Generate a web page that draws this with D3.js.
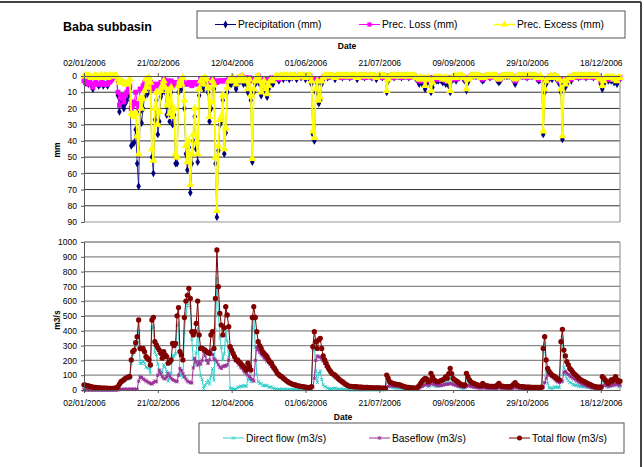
<!DOCTYPE html>
<html><head><meta charset="utf-8">
<script src="https://cdn.jsdelivr.net/npm/d3@7"></script>
<style>
body{margin:0;background:#fff}
svg{display:block}
text{font-family:"Liberation Sans",Arial,sans-serif;fill:#000}
</style>
</head><body>
<svg id="c" width="644" height="467"></svg>
<script>
// ---------- DATA ----------
const startDate = "02/01/2006";
const endDate = "31/12/2006";
const tickLabels = ["02/01/2006","21/02/2006","12/04/2006","01/06/2006","21/07/2006","09/09/2006","29/10/2006","18/12/2006"];
const precTicks = [0,10,20,30,40,50,60,70,80,90];
const flowTicks = [0,100,200,300,400,500,600,700,800,900,1000];
const precLegend = ["Precipitation (mm)","Prec. Loss (mm)","Prec. Excess (mm)"];
const flowLegend = ["Direct flow (m3/s)","Baseflow (m3/s)","Total flow (m3/s)"];

const precipitation = [
3,4,2,5,4,6,8,5,4,5, 6,5,4,6,5,5,6,4,3,2, 1,0,1,12,22,15,18,20,17,15,
12,8,43,42,41,33,54,68,22,29, 20,13,5,11,3,8,50,60,27,15, 36,28,13,10,5,10,24,12,28,10,
30,24,54,54,10,5,8,3,20,48, 58,44,72,54,40,25,45,53,12,5, 5,8,3,5,10,28,20,5,8,54,
87,46,30,28,15,48,35,10,5,5, 5,3,5,8,5,2,3,0,5,3, 5,10,3,15,53,10,5,3,0,5,
12,8,5,10,13,8,5,3,5,2, 1,0,3,1,0,2,0,1,0,2, 0,1,0,0,2,0,0,1,0,0,
2,0,1,0,5,36,40,10,5,17, 15,5,2,0,0,1,0,0,0,0, 2,0,0,0,0,1,0,0,0,0,
1,0,0,0,0,2,0,0,0,0, 1,0,0,0,0,1,0,0,2,0, 0,0,1,0,0,10,3,0,0,0,
1,0,0,0,0,1,0,0,0,0, 1,0,0,0,0,2,3,5,3,5, 3,8,5,2,4,10,7,3,2,3,
3,2,3,4,2,5,3,6,10,3, 2,1,3,0,1,0,0,2,3,9, 4,2,0,0,0,0,0,0,0,2,
3,2,0,0,0,1,0,0,0,0, 3,4,3,0,0,0,0,0,0,0, 0,3,5,3,0,0,0,0,0,0,
1,0,0,0,0,0,0,2,3,2, 3,36,10,5,3,2,0,2,0,0, 2,3,5,10,39,5,7,5,3,2,
3,0,0,0,0,1,0,0,0,0, 1,0,0,0,0,1,0,0,0,2, 5,8,5,3,2,3,2,3,2,4,
2,5,3,2];

const precLoss = [
3,4,2,5,4,5,7,5,4,5, 5,5,4,5,5,5,5,4,3,2, 1,0,1,10,18,12,14,16,12,10,
8,6,20,18,16,10,17,20,8,9, 6,4,3,4,2,4,5,8,7,5, 6,6,4,4,2,3,6,3,5,3,
5,4,6,4,4,2,3,2,5,5, 5,4,5,6,4,5,4,5,4,2, 3,3,2,3,3,3,4,2,3,4,
4,3,3,3,3,3,3,3,2,3, 2,2,2,3,2,1,1,0,2,1, 2,2,1,3,2,2,2,2,0,2,
2,2,2,2,2,2,2,1,2,1, 1,0,2,1,0,1,0,1,0,1, 0,1,0,0,1,0,0,1,0,0,
1,0,1,0,2,2,2,2,2,2, 2,2,1,0,0,1,0,0,0,0, 1,0,0,0,0,1,0,0,0,0,
1,0,0,0,0,1,0,0,0,0, 1,0,0,0,0,1,0,0,1,0, 0,0,1,0,0,1,1,0,0,0,
1,0,0,0,0,1,0,0,0,0, 1,0,0,0,0,1,2,3,2,3, 2,2,3,1,2,1,3,2,1,2,
2,1,2,2,1,3,2,3,1,2, 1,1,2,0,1,0,0,1,2,1, 2,1,0,0,0,0,0,0,0,1,
2,1,0,0,0,1,0,0,0,0, 2,2,2,0,0,0,0,0,0,0, 0,2,3,2,0,0,0,0,0,0,
1,0,0,0,0,0,0,1,2,2, 2,2,2,2,2,1,0,1,0,0, 1,2,3,2,2,2,2,2,2,1,
2,0,0,0,0,1,0,0,0,0, 1,0,0,0,0,1,0,0,0,1, 3,2,2,2,1,2,1,2,1,2,
1,2,2,1];

const precExcess = [
0,0,0,0,0,1,1,0,0,0, 1,0,0,1,0,0,1,0,0,0, 0,0,0,2,4,3,4,4,5,5,
4,2,23,24,25,23,37,48,14,20, 14,9,2,7,1,4,45,52,20,10, 30,22,9,6,3,7,18,9,23,7,
25,20,48,50,6,3,5,1,15,43, 53,40,67,48,36,20,41,48,8,3, 2,5,1,2,7,25,16,3,5,50,
83,43,27,25,12,45,32,7,3,2, 3,1,3,5,3,1,2,0,3,2, 3,8,2,12,51,8,3,1,0,3,
10,6,3,8,11,6,3,2,3,1, 0,0,1,0,0,1,0,0,0,1, 0,0,0,0,1,0,0,0,0,0,
1,0,0,0,3,34,38,8,3,15, 13,3,1,0,0,0,0,0,0,0, 1,0,0,0,0,0,0,0,0,0,
0,0,0,0,0,1,0,0,0,0, 0,0,0,0,0,0,0,0,1,0, 0,0,0,0,0,9,2,0,0,0,
0,0,0,0,0,0,0,0,0,0, 0,0,0,0,0,1,1,2,1,2, 1,6,2,1,2,9,4,1,1,1,
1,1,1,2,1,2,1,3,9,1, 1,0,1,0,0,0,0,1,1,8, 2,1,0,0,0,0,0,0,0,1,
1,1,0,0,0,0,0,0,0,0, 1,2,1,0,0,0,0,0,0,0, 0,1,2,1,0,0,0,0,0,0,
0,0,0,0,0,0,0,1,1,0, 1,34,8,3,1,1,0,1,0,0, 1,1,2,8,37,3,5,3,1,1,
1,0,0,0,0,0,0,0,0,0, 0,0,0,0,0,0,0,0,0,1, 2,6,3,1,1,1,1,1,1,2,
1,3,1,1];

const directFlow = [
5,5,4,4,3,3,3,2,2,2, 2,2,2,2,2,2,1,1,1,1, 1,1,3,8,30,45,52,60,68,72,
76,78,180,240,255,300,340,400,180,180, 195,180,155,150,145,115,420,430,255,240, 175,125,130,115,170,155,125,60,85,115,
235,225,245,435,450,105,100,85,390,515, 570,620,560,340,210,170,250,420,170,95, 70,10,30,50,65,40,95,145,65,405,
756,520,355,285,205,245,395,330,220,13, 10,7,5,3,18,20,26,24,28,28, 25,80,68,56,420,503,290,104,56,45,
41,29,33,31,30,20,18,21,12,8, 5,3,3,5,5,4,4,4,4,4, 3,3,3,3,3,3,3,3,3,3,
3,3,3,3,9,273,314,126,51,113, 129,71,35,23,20,13,8,7,7,11, 13,8,6,5,5,6,5,4,3,2,
2,2,2,2,2,2,2,2,2,2, 2,2,2,2,2,2,2,2,2,2, 2,2,2,2,2,89,55,26,20,17,
15,14,13,13,12,10,8,6,5,4, 4,4,4,4,3,2,10,16,25,35, 40,44,37,21,27,73,45,30,26,24,
26,29,33,34,39,50,42,68,101,68, 41,36,31,28,22,16,12,12,16,88, 60,40,30,26,25,22,20,17,16,15,
29,20,16,14,14,13,13,13,13,12, 22,29,16,13,12,12,12,11,11,11, 18,26,32,19,14,12,11,11,10,10,
10,9,9,9,9,9,9,8,8,9, 10,261,310,123,46,15,13,10,15,20, 20,17,18,271,350,150,105,76,65,51,
47,38,33,33,30,26,24,23,23,23, 21,19,18,17,14,13,12,11,10,9, 9,70,50,33,24,17,29,38,28,40,
50,32,21,28];

const baseflow = [
0,0,0,0,0,0,0,0,0,0, 0,0,0,0,0,0,0,0,0,0, 0,0,0,2,3,4,4,5,5,5,
5,5,5,5,5,5,5,60,90,85, 75,68,62,55,50,45,40,50,60,55, 100,135,110,90,80,75,90,113,95,80,
70,65,60,56,100,146,130,110,90,75, 60,55,50,48,150,214,190,169,191,175, 200,259,230,200,180,203,270,240,210,203,
190,170,155,146,158,165,160,170,200,280, 260,240,220,200,185,170,155,146,130,120, 110,101,90,79,70,60,200,290,270,255,
240,230,215,205,195,185,172,160,148,138, 125,110,100,90,85,76,68,60,52,46, 42,37,33,31,28,25,23,21,20,18,
17,15,13,13,14,20,80,200,230,225, 220,210,195,180,160,145,132,118,105,95, 88,82,74,65,57,50,43,36,31,26,
23,22,21,20,20,19,18,18,17,16, 16,15,15,14,14,13,13,13,12,12, 12,11,11,11,10,12,25,30,30,28,
27,26,25,23,22,20,18,16,15,14, 13,12,11,10,10,9,10,14,20,25, 30,35,38,35,33,40,45,40,36,32,
30,31,32,34,36,40,38,42,45,42, 38,34,31,28,26,24,22,20,19,25, 30,28,25,22,20,18,16,15,14,14,
16,15,14,13,12,12,12,11,11,11, 13,16,14,13,12,11,11,11,11,11, 12,14,18,16,14,13,12,11,11,10,
10,10,10,9,9,9,9,9,9,9, 10,20,50,80,100,110,100,90,80,70, 60,55,50,55,60,120,125,115,105,95,
88,82,75,68,60,54,48,42,37,33, 29,26,22,19,16,13,11,10,10,10, 10,20,30,35,32,28,26,30,32,35,
40,38,35,32];

const totalFlow = [
35,33,30,27,24,22,20,18,17,16, 15,14,13,13,12,12,11,11,11,11, 11,12,16,22,40,56,62,70,79,84,
88,90,203,259,270,320,360,473,281,278, 281,259,225,215,203,169,473,490,326,304, 285,270,248,215,259,237,225,181,190,203,
315,300,315,501,557,259,237,203,490,601, 640,687,619,394,372,394,450,601,372,281, 281,275,270,259,252,248,372,394,281,619,
946,698,518,439,372,420,563,507,428,293, 270,247,225,203,203,190,181,170,158,148, 135,181,158,135,490,563,490,394,326,300,
281,259,248,236,225,205,190,181,160,146, 130,113,103,95,90,80,72,64,56,50, 45,40,36,34,31,28,26,24,23,21,
20,18,16,16,23,293,394,326,281,338, 349,281,230,203,180,158,140,125,112,106, 101,90,80,70,62,56,48,40,34,28,
25,24,23,22,22,21,20,20,19,18, 18,17,17,16,16,15,15,15,14,14, 14,13,13,13,12,101,80,56,50,45,
42,40,38,36,34,30,26,22,20,18, 17,16,15,14,13,11,20,30,45,60, 70,79,75,56,60,113,90,70,62,56,
56,60,65,68,75,90,80,110,146,110, 79,70,62,56,48,40,34,32,35,113, 90,68,55,48,45,40,36,32,30,29,
45,35,30,27,26,25,25,24,24,23, 35,45,30,26,24,23,23,22,22,22, 30,40,50,35,28,25,23,22,21,20,
20,19,19,18,18,18,18,17,17,18, 20,281,360,203,146,125,113,100,95,90, 80,72,68,326,410,270,230,191,170,146,
135,120,108,101,90,80,72,65,60,56, 50,45,40,36,30,26,23,21,20,19, 19,90,80,68,56,45,55,68,60,75,
90,70,56,60];

// ---------- CHART ----------
const FONT = '"Liberation Sans", Arial, sans-serif';
const svg = d3.select("#c");
const parse = d3.utcParse("%d/%m/%Y");
const fmt = d3.utcFormat("%d/%m/%Y");
const t0 = parse(startDate);
const dayOf = i => d3.utcDay.offset(t0, i);

const X0 = 84, X1 = 620;
const x = d3.scaleUtc().domain([t0, parse(endDate)]).range([X0, X1]);
const yP = d3.scaleLinear().domain([0, 90]).range([76, 222]);
const yF = d3.scaleLinear().domain([0, 1000]).range([390, 242]);
const tickDates = tickLabels.map(parse);

// custom stroked symbols
const symX = {draw(c, s){const r=Math.sqrt(s)/2;c.moveTo(-r,-r);c.lineTo(r,r);c.moveTo(r,-r);c.lineTo(-r,r);}};
const symStar = {draw(c, s){const r=Math.sqrt(s)/2;c.moveTo(-r,-r);c.lineTo(r,r);c.moveTo(r,-r);c.lineTo(-r,r);c.moveTo(0,-r);c.lineTo(0,r);c.moveTo(-r,0);c.lineTo(r,0);}};

// frame of the screenshot
svg.append("line").attr("x1",0).attr("x2",641).attr("y1",2).attr("y2",2).attr("stroke","#444").attr("stroke-width",2);
svg.append("line").attr("x1",641).attr("x2",641).attr("y1",2).attr("y2",467).attr("stroke","#444").attr("stroke-width",2);

// title
svg.append("text").attr("x",63).attr("y",31).attr("font-size",12.5).attr("font-weight","bold").text("Baba subbasin");

// ---- top plot grid
const gTop = svg.append("g");
gTop.selectAll("line.g").data(precTicks.filter(v=>v>0 && v<90)).join("line")
  .attr("x1",X0).attr("x2",X1).attr("y1",d=>yP(d)).attr("y2",d=>yP(d))
  .attr("stroke","#333").attr("stroke-width",1);
gTop.append("line").attr("x1",X0).attr("x2",X1).attr("y1",yP(90)).attr("y2",yP(90)).attr("stroke","#999").attr("stroke-width",1.2);
gTop.append("line").attr("x1",X1).attr("x2",X1).attr("y1",yP(0)).attr("y2",yP(90)).attr("stroke","#999").attr("stroke-width",1.2);

// ---- bottom plot grid
const gBot = svg.append("g");
gBot.selectAll("line.g").data(flowTicks.filter(v=>v>0)).join("line")
  .attr("x1",X0).attr("x2",X1).attr("y1",d=>yF(d)).attr("y2",d=>yF(d))
  .attr("stroke","#888").attr("stroke-width",1.3);
gBot.append("line").attr("x1",X1).attr("x2",X1).attr("y1",yF(1000)).attr("y2",yF(0)).attr("stroke","#999").attr("stroke-width",1.2);

// ---- series drawing
function drawSeries(g, vals, yS, color, sym, size, lw, fill){
  const pts = vals.map((v,i)=>({d:dayOf(i), v}));
  g.append("path").datum(pts)
    .attr("fill","none").attr("stroke",color).attr("stroke-width",lw)
    .attr("d", d3.line().x(p=>x(p.d)).y(p=>yS(p.v)));
  const s = d3.symbol().type(sym).size(size)();
  g.append("g").selectAll("path").data(pts).join("path")
    .attr("transform",p=>`translate(${x(p.d)},${yS(p.v)})`)
    .attr("d", s)
    .attr("fill", fill ? color : "none")
    .attr("stroke", fill ? "none" : color)
    .attr("stroke-width", fill ? 0 : 1);
}

const sTop = svg.append("g");
drawSeries(sTop, precipitation, yP, "#000080", d3.symbolDiamond, 18, 0.8, true);
drawSeries(sTop, precLoss, yP, "#FF00FF", d3.symbolSquare, 24, 1, true);
drawSeries(sTop, precExcess, yP, "#FFFF00", d3.symbolTriangle, 28, 1.8, true);

const sBot = svg.append("g");
drawSeries(sBot, directFlow, yF, "#33CCCC", symX, 10, 1, false);
drawSeries(sBot, baseflow, yF, "#993399", symStar, 10, 1, false);
drawSeries(sBot, totalFlow, yF, "#800000", d3.symbolCircle, 22, 1, true);

// ---- axes
function styleAxis(g){
  g.selectAll("text").attr("font-size",8.5).attr("font-family",FONT).attr("fill","#000");
  g.select(".domain").attr("stroke","#555");
  g.selectAll(".tick line").attr("stroke","#555");
}
svg.append("g").attr("transform",`translate(${X0},0)`)
  .call(d3.axisLeft(yP).tickValues(precTicks).tickFormat(d3.format("d")).tickSize(3).tickSizeOuter(0).tickPadding(4)).call(styleAxis);
svg.append("g").attr("transform",`translate(0,${yP(0)})`)
  .call(d3.axisTop(x).tickValues(tickDates).tickFormat(fmt).tickSize(3).tickSizeOuter(0).tickPadding(7)).call(styleAxis);
svg.append("g").attr("transform",`translate(${X0},0)`)
  .call(d3.axisLeft(yF).tickValues(flowTicks).tickFormat(d3.format("d")).tickSize(3).tickSizeOuter(0).tickPadding(4)).call(styleAxis);
svg.append("g").attr("transform",`translate(0,${yF(0)})`)
  .call(d3.axisBottom(x).tickValues(tickDates).tickFormat(fmt).tickSize(3).tickSizeOuter(0).tickPadding(7)).call(styleAxis);

// axis titles
svg.append("text").attr("x",347).attr("y",49).attr("text-anchor","middle").attr("font-size",8.5).attr("font-weight","bold").text("Date");
svg.append("text").attr("x",343).attr("y",420).attr("text-anchor","middle").attr("font-size",8.5).attr("font-weight","bold").text("Date");
svg.append("text").attr("transform","translate(60,150) rotate(-90)").attr("text-anchor","middle").attr("font-size",8.5).attr("font-weight","bold").text("mm");
svg.append("text").attr("transform","translate(60,320) rotate(-90)").attr("text-anchor","middle").attr("font-size",8.5).attr("font-weight","bold").text("m3/s");

// ---- legends
function legend(box, items){
  const g = svg.append("g");
  g.append("rect").attr("x",box.x).attr("y",box.y).attr("width",box.w).attr("height",box.h)
    .attr("fill","#fff").attr("stroke","#555").attr("stroke-width",1);
  items.forEach(it=>{
    const cy = box.y + box.h/2;
    g.append("line").attr("x1",it.x).attr("x2",it.x+21).attr("y1",cy).attr("y2",cy)
      .attr("stroke",it.color).attr("stroke-width",it.lw);
    g.append("path").attr("transform",`translate(${it.x+10.5},${cy})`)
      .attr("d", d3.symbol().type(it.sym).size(it.size)())
      .attr("fill", it.fill ? it.color : "none").attr("stroke", it.fill ? "none" : it.color);
    g.append("text").attr("x",it.x+23).attr("y",cy+3.6).attr("font-size",10.3).text(it.label);
  });
}
legend({x:197,y:11,w:428,h:27},[
  {x:215,label:precLegend[0],color:"#000080",sym:d3.symbolDiamond,size:18,fill:true,lw:1},
  {x:359,label:precLegend[1],color:"#FF00FF",sym:d3.symbolSquare,size:18,fill:true,lw:1},
  {x:494,label:precLegend[2],color:"#FFFF00",sym:d3.symbolTriangle,size:20,fill:true,lw:1.5}
]);
legend({x:199,y:423,w:425,h:30},[
  {x:223,label:flowLegend[0],color:"#33CCCC",sym:symX,size:10,fill:false,lw:1},
  {x:369,label:flowLegend[1],color:"#993399",sym:symStar,size:10,fill:false,lw:1},
  {x:509,label:flowLegend[2],color:"#800000",sym:d3.symbolCircle,size:20,fill:true,lw:1}
]);
</script>
</body></html>
